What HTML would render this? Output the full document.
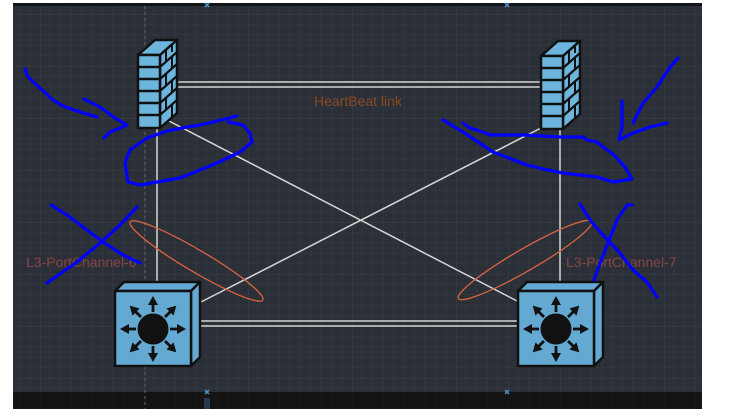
<!DOCTYPE html>
<html><head><meta charset="utf-8"><style>
html,body{margin:0;padding:0;background:#fff;width:747px;height:418px;overflow:hidden}
svg{display:block}
text{font-family:"Liberation Sans",Arial,sans-serif;font-size:14px}
</style></head><body>
<svg width="747" height="418" viewBox="0 0 747 418" xmlns="http://www.w3.org/2000/svg">
<defs>
<pattern id="g" x="40" y="14" width="52" height="52" patternUnits="userSpaceOnUse">
<path d="M10.4 0V52M20.8 0V52M31.2 0V52M41.6 0V52M0 10.4H52M0 20.8H52M0 31.2H52M0 41.6H52" stroke="#31353d" stroke-width="1" fill="none"/>
<path d="M0 0V52M0 0H52" stroke="#3b3f48" stroke-width="1" fill="none"/>
</pattern>
<pattern id="gb" x="40" y="14" width="10.4" height="52" patternUnits="userSpaceOnUse">
<path d="M0 0V52" stroke="#1c1c1c" stroke-width="1"/>
</pattern>
<g id="fw">
<polygon points="138,55 155,40 177,40 160,55" fill="#6cb6de" stroke="#111" stroke-width="2.5" stroke-linejoin="round"/>
<polygon points="160,55 177,40 177,113 160,128" fill="#6cb6de" stroke="#111" stroke-width="2.5" stroke-linejoin="round"/>
<rect x="138" y="55" width="22" height="73" fill="#6cb6de" stroke="#111" stroke-width="2.5"/>
<path d="M138 67H160M138 79H160M138 91H160M138 103H160M138 115H160" stroke="#111" stroke-width="2.5"/>
<path d="M160 67L177 52M160 79L177 64M160 91L177 76M160 103L177 88M160 115L177 100" stroke="#111" stroke-width="2.2"/>
<path d="M166 50V62M172 57V69M166 74V86M172 81V93M166 98V110M172 105V117M166 122V125M172 45V52" stroke="#111" stroke-width="2"/>
</g>
<g id="sw">
<polygon points="115,291 124,282 200,282 191,291" fill="#63a9d2" stroke="#111" stroke-width="2.5" stroke-linejoin="round"/>
<polygon points="191,291 200,282 200,357 191,366" fill="#63a9d2" stroke="#111" stroke-width="2.5" stroke-linejoin="round"/>
<rect x="115" y="291" width="76" height="75" fill="#63a9d2" stroke="#111" stroke-width="2.5"/>
<circle cx="153" cy="329" r="15.5" fill="#111"/>
<g stroke="#111" stroke-width="2.8" fill="#111">
<g id="ar"><line x1="153" y1="312" x2="153" y2="303"/><polygon points="153,296 148,305 158,305" stroke="none"/></g>
<use href="#ar" transform="rotate(45 153 329)"/>
<use href="#ar" transform="rotate(90 153 329)"/>
<use href="#ar" transform="rotate(135 153 329)"/>
<use href="#ar" transform="rotate(180 153 329)"/>
<use href="#ar" transform="rotate(225 153 329)"/>
<use href="#ar" transform="rotate(270 153 329)"/>
<use href="#ar" transform="rotate(315 153 329)"/>
</g>
</g>
</defs>
<rect x="13" y="3" width="689" height="406" fill="#2b2f37"/>
<rect x="13" y="6" width="689" height="386" fill="url(#g)"/>
<rect x="13" y="3" width="689" height="3" fill="#141517"/>
<rect x="13" y="392" width="689" height="17" fill="#141414"/>
<rect x="13" y="392" width="689" height="17" fill="url(#gb)"/>
<line x1="145" y1="6" x2="145" y2="409" stroke="#5a5e66" stroke-width="1" stroke-dasharray="3 3"/>
<g stroke="#4f93c9" stroke-width="1.5">
<path d="M205 3L209 7M209 3L205 7"/><path d="M505 3L509 7M509 3L505 7"/>
<path d="M205 390L209 394M209 390L205 394"/><path d="M505 390L509 394M509 390L505 394"/>
</g>
<rect x="204" y="398" width="6" height="11" rx="1" fill="#2a3a4a"/>

<!-- links -->
<g stroke="#d6d6d6" stroke-width="1.5" fill="none">
<line x1="177" y1="82" x2="541" y2="82"/>
<line x1="177" y1="87" x2="541" y2="87"/>
<line x1="199" y1="321" x2="518" y2="321"/>
<line x1="199" y1="326" x2="518" y2="326"/>
<line x1="157" y1="128" x2="157" y2="282"/>
<line x1="560" y1="128" x2="560" y2="282"/>
<line x1="167" y1="120" x2="519" y2="302"/>
<line x1="541" y1="128" x2="199" y2="303"/>
</g>
<ellipse cx="196.5" cy="261" rx="77" ry="11" transform="rotate(30.5 196.5 261)" fill="none" stroke="#d8643f" stroke-width="1.3"/>
<ellipse cx="525" cy="260" rx="77" ry="11" transform="rotate(-30 525 260)" fill="none" stroke="#d8643f" stroke-width="1.3"/>

<use href="#fw"/>
<use href="#fw" transform="translate(403 1)"/>
<use href="#sw"/>
<use href="#sw" transform="translate(403 0)"/>

<text x="314" y="106" fill="#8a4a22">HeartBeat link</text>
<text x="26" y="267" fill="#864646">L3-PortChannel-6</text>
<text x="566" y="267" fill="#864646">L3-PortChannel-7</text>

<!-- blue scribbles -->
<g stroke="#0000ff" stroke-width="3.2" fill="none" stroke-linecap="round" stroke-linejoin="round">
<polyline points="25,69 28,77 40,88 53,100 63,106 80,112 97,117"/>
<polyline points="84,99 100,107 115,118 127,125 120,128 110,132 104,138"/>
<polyline points="237,116 213,122 200,125 187,127 167,131 147,138 130,150 125,163 128,182 140,185 157,182 180,178 200,170 217,163 240,152 252,142 250,133 243,125 228,122"/>
<polyline points="51,205 67,215 87,230 103,242 123,255 140,263"/>
<polyline points="137,207 120,225 100,243 77,262 47,283"/>
<polyline points="443,120 463,132 493,152 527,165 543,169 563,173 597,177 613,182 632,179 625,167 613,154 603,147 597,142 587,140 583,137 560,137 523,135 490,135 483,132 470,128 463,123"/>
<polyline points="622,101 622,127 619,140 633,133 650,127 667,123"/>
<polyline points="678,58 670,67 657,87 643,103 633,123"/>
<polyline points="580,204 590,220 603,235 620,253 633,270 647,282 657,297"/>
<polyline points="632,205 627,205 617,220 608,243 600,263 594,280"/>
</g>
</svg>
</body></html>
